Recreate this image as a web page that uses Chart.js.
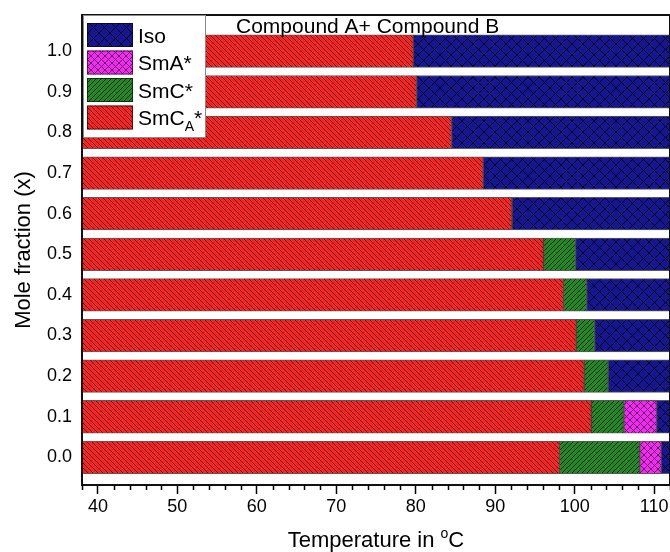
<!DOCTYPE html>
<html>
<head>
<meta charset="utf-8">
<script src="https://cdn.jsdelivr.net/npm/chart.js@4.4.1/dist/chart.umd.min.js"></script>
<style>
  html, body { margin: 0; padding: 0; background: #fff; }
  #wrap { width: 670px; height: 552px; }
</style>
</head>
<body>
<div id="wrap"><canvas id="c" width="670" height="552"></canvas></div>
<script>
// Mole fraction x of each mixture (one horizontal bar each, bottom to top)
const fractions = [0.0, 0.1, 0.2, 0.3, 0.4, 0.5, 0.6, 0.7, 0.8, 0.9, 1.0];
const fractionLabels = ['0.0', '0.1', '0.2', '0.3', '0.4', '0.5', '0.6', '0.7', '0.8', '0.9', '1.0'];

// Upper temperature limit of each phase in °C (null = phase not seen)
const smcaEnd = [98.1, 102.1, 101.2, 100.2, 98.6, 96.1, 92.1, 88.5, 84.5, 80.1, 79.7];
const smcEnd  = [108.2, 106.2, 104.2, 102.5, 101.5, 100.1, null, null, null, null, null];
const smaEnd  = [110.9, 110.3, null, null, null, null, null, null, null, null, null];

// Temperature axis
const tempRange = [38, 112];
const tempMajorTicks = [40, 50, 60, 70, 80, 90, 100, 110];
const tempMinorStep = 2;

const FONT = '"Liberation Sans", Arial, Helvetica, sans-serif';

// ---- hatch fills ----------------------------------------------------------
function hatch(base, line, period, dirs, lw) {
  const c = document.createElement('canvas');
  c.width = c.height = period;
  const g = c.getContext('2d');
  g.fillStyle = base;
  g.fillRect(0, 0, period, period);
  g.strokeStyle = line;
  g.lineWidth = lw;
  for (const d of dirs) {
    for (let k = -1; k <= 1; k++) {
      g.beginPath();
      if (d === 'back') {           // "\" lines
        g.moveTo(-period, -period + k * period);
        g.lineTo(2 * period, 2 * period + k * period);
      } else {                      // "/" lines
        g.moveTo(-period, 2 * period + k * period);
        g.lineTo(2 * period, -period + k * period);
      }
      g.stroke();
    }
  }
  return g.createPattern(c, 'repeat');
}

const fills = {
  iso:  hatch('#161690', 'rgba(0,0,20,0.9)', 11, ['back', 'fwd'], 1),
  sma:  hatch('#ff22ff', 'rgba(40,0,40,0.85)', 7, ['back', 'fwd'], 1),
  smc:  hatch('#1f8a1f', 'rgba(0,20,0,0.9)', 5, ['fwd'], 1),
  smca: hatch('#ff2020', 'rgba(40,0,0,0.85)', 5, ['back'], 1)
};

// ---- floating bar ranges built from the transition temperatures ----------
const smcaBars = [], smcBars = [], smaBars = [], isoBars = [];
fractions.forEach((f, i) => {
  smcaBars.push({ y: f, x: [tempRange[0], smcaEnd[i]] });
  if (smcEnd[i] !== null) smcBars.push({ y: f, x: [smcaEnd[i], smcEnd[i]] });
  if (smaEnd[i] !== null) smaBars.push({ y: f, x: [smcEnd[i], smaEnd[i]] });
  const clearing = smaEnd[i] !== null ? smaEnd[i] : (smcEnd[i] !== null ? smcEnd[i] : smcaEnd[i]);
  isoBars.push({ y: f, x: [clearing, tempRange[1]] });
});

// grid lines sit half-way between the bars
const yGrid = fractions.map(f => +(f - 0.05).toFixed(2)).concat([+(fractions[fractions.length - 1] + 0.05).toFixed(2)]);
const yTicks = fractions.concat(yGrid).sort((a, b) => a - b);
const isBarValue = v => fractions.some(f => Math.abs(f - v) < 1e-6);

const barCommon = {
  borderColor: 'rgba(0,0,0,0.65)',
  borderWidth: 1,
  borderSkipped: false,
  grouped: false,
  barThickness: 32.6
};

// ---- plugins -------------------------------------------------------------
const framePlugin = {
  id: 'frame',
  afterDatasetsDraw(chart) {
    const { ctx, chartArea: a } = chart;
    ctx.save();
    ctx.strokeStyle = '#111';
    ctx.lineWidth = 2;
    ctx.strokeRect(a.left, a.top, a.right - a.left, a.bottom - a.top);
    ctx.restore();
  }
};

const minorTickPlugin = {
  id: 'minorTicks',
  afterDraw(chart) {
    const { ctx, chartArea: a } = chart;
    const xs = chart.scales.x;
    ctx.save();
    ctx.strokeStyle = '#000';
    ctx.lineWidth = 1.5;
    for (let v = tempRange[0]; v <= tempRange[1] + 1e-9; v += tempMinorStep) {
      if (tempMajorTicks.includes(v)) continue;
      const px = Math.round(xs.getPixelForValue(v)) + 0.5;
      ctx.beginPath();
      ctx.moveTo(px, a.bottom);
      ctx.lineTo(px, a.bottom + 5);
      ctx.stroke();
    }
    ctx.restore();
  }
};

const textPlugin = {
  id: 'texts',
  afterDraw(chart) {
    const { ctx, chartArea: a } = chart;
    ctx.save();
    ctx.fillStyle = '#000';
    ctx.textBaseline = 'alphabetic';

    // chart title inside the frame
    ctx.font = '21px ' + FONT;
    ctx.textAlign = 'left';
    ctx.fillText('Compound A+ Compound B', 236, 33);

    // x axis title with superscript degree
    const big = '22px ' + FONT, small = '14px ' + FONT;
    ctx.font = big;
    const w1 = ctx.measureText('Temperature in ').width;
    const w3 = ctx.measureText('C').width;
    ctx.font = small;
    const w2 = ctx.measureText('o').width;
    const total = w1 + w2 + w3;
    let x = (a.left + a.right) / 2 - total / 2;
    const base = 547;
    ctx.font = big;
    ctx.fillText('Temperature in ', x, base);
    x += w1;
    ctx.font = small;
    ctx.fillText('o', x, base - 9);
    x += w2;
    ctx.font = big;
    ctx.fillText('C', x, base);

    // legend
    const L = { x: 83.5, y: 15.5, w: 122, h: 122 };
    ctx.fillStyle = '#fff';
    ctx.fillRect(L.x, L.y, L.w, L.h);
    ctx.strokeStyle = '#8a8a8a';
    ctx.lineWidth = 1;
    ctx.strokeRect(L.x, L.y, L.w, L.h);
    const entries = [
      { fill: fills.iso,  text: 'Iso' },
      { fill: fills.sma,  text: 'SmA*' },
      { fill: fills.smc,  text: 'SmC*' },
      { fill: fills.smca, text: 'SmC', sub: 'A', sup: '*' }
    ];
    entries.forEach((e, i) => {
      const top = 23 + i * 27.5;
      ctx.fillStyle = e.fill;
      ctx.fillRect(87, top, 46, 24);
      ctx.strokeStyle = 'rgba(0,0,0,0.6)';
      ctx.strokeRect(87.5, top + 0.5, 45, 23);
      ctx.fillStyle = '#000';
      const bl = top + 12 + 7.6;
      ctx.font = '21px ' + FONT;
      ctx.fillText(e.text, 138, bl);
      if (e.sub) {
        let tx = 138 + ctx.measureText(e.text).width;
        ctx.font = '14px ' + FONT;
        ctx.fillText(e.sub, tx, bl + 6);
        tx += ctx.measureText(e.sub).width;
        ctx.font = '21px ' + FONT;
        ctx.fillText(e.sup, tx, bl);
      }
    });
    ctx.restore();
  }
};

// ---- chart ---------------------------------------------------------------
new Chart(document.getElementById('c'), {
  type: 'bar',
  data: {
    datasets: [
      Object.assign({ label: 'SmCA*', data: smcaBars, backgroundColor: fills.smca }, barCommon),
      Object.assign({ label: 'SmC*',  data: smcBars,  backgroundColor: fills.smc },  barCommon),
      Object.assign({ label: 'SmA*',  data: smaBars,  backgroundColor: fills.sma },  barCommon),
      Object.assign({ label: 'Iso',   data: isoBars,  backgroundColor: fills.iso },  barCommon)
    ]
  },
  options: {
    indexAxis: 'y',
    responsive: false,
    animation: false,
    devicePixelRatio: 1,
    layout: { padding: { top: 15, right: 0, left: 0, bottom: 0 } },
    plugins: { legend: { display: false }, tooltip: { enabled: false }, title: { display: false } },
    scales: {
      x: {
        type: 'linear',
        position: 'bottom',
        min: tempRange[0],
        max: tempRange[1],
        afterBuildTicks: s => { s.ticks = tempMajorTicks.map(v => ({ value: v })); },
        ticks: { font: { family: FONT, size: 18 }, color: '#000', padding: 2, maxRotation: 0, autoSkip: false },
        grid: { drawOnChartArea: false, drawTicks: true, tickLength: 9, color: '#000', tickWidth: 1.5 },
        border: { display: false },
        afterFit: s => { s.height = 552 - 485; s.paddingLeft = 0; s.paddingRight = 0; }
      },
      y: {
        type: 'linear',
        offset: false,
        min: -0.068,
        max: 1.089,
        afterBuildTicks: s => { s.ticks = yTicks.map(v => ({ value: v })); },
        ticks: {
          font: { family: FONT, size: 18 }, color: '#000', padding: 10, autoSkip: false,
          callback: (v) => {
            const i = fractions.findIndex(f => Math.abs(f - v) < 1e-6);
            return i >= 0 ? fractionLabels[i] : '';
          }
        },
        grid: {
          drawTicks: false,
          lineWidth: 1,
          color: ctx => (ctx.tick && !isBarValue(ctx.tick.value)) ? '#c4c4c4' : 'rgba(0,0,0,0)'
        },
        border: { display: false, dash: [2, 2] },
        title: { display: true, text: 'Mole fraction (x)', font: { family: FONT, size: 22 }, color: '#000', padding: { top: 11, bottom: 0 } },
        afterFit: s => { s.width = 82; s.paddingTop = 0; s.paddingBottom = 0; }
      }
    }
  },
  plugins: [framePlugin, minorTickPlugin, textPlugin]
});
</script>
</body>
</html>
